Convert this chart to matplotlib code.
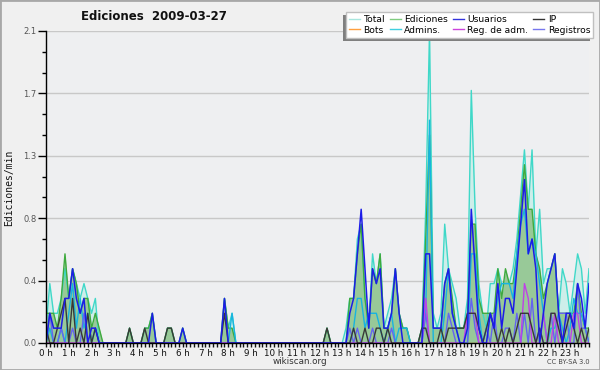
"""
Ediciones par tranche de 10 min, 2009-03-27 (graphique wikiscan).
"""
import matplotlib
matplotlib.use("Agg")
import matplotlib.pyplot as plt
import numpy as np
from matplotlib.lines import Line2D
from matplotlib.patches import Rectangle

TITLE = "Ediciones  2009-03-27"
Y_LABEL = "Ediciones/min"
HOUR_LABELS = ["0 h", "1 h", "2 h", "3 h", "4 h", "5 h", "6 h", "7 h", "8 h", "9 h",
               "10 h", "11 h", "12 h", "13 h", "14 h", "15 h", "16 h", "17 h", "18 h",
               "19 h", "20 h", "21 h", "22 h", "23 h"]
Y_TICKS = [0.0, 0.42, 0.84, 1.26, 1.68, 2.1]
Y_TICK_LABELS = ["0.0", "0.4", "0.8", "1.3", "1.7", "2.1"]

# une valeur par tranche de 10 min (144 points), en ediciones/min
TOTAL = [
    0.1, 0.4, 0.2, 0.2, 0.3, 0.5, 0.3, 0.5, 0.4, 0.3, 0.4, 0.3,
    0.2, 0.3, 0, 0, 0, 0, 0, 0, 0, 0, 0.1, 0,
    0, 0, 0.1, 0.1, 0.2, 0, 0, 0, 0.1, 0.1, 0, 0,
    0.1, 0, 0, 0, 0, 0, 0, 0, 0, 0, 0, 0.3,
    0.1, 0.2, 0, 0, 0, 0, 0, 0, 0, 0, 0, 0,
    0, 0, 0, 0, 0, 0, 0, 0, 0, 0, 0, 0,
    0, 0, 0.1, 0, 0, 0, 0, 0.1, 0.3, 0.3, 0.7, 0.8,
    0.3, 0.1, 0.6, 0.4, 0.6, 0.1, 0.2, 0.3, 0.5, 0.2, 0.1, 0.1,
    0, 0, 0, 0.1, 0.9, 2.1, 0.2, 0.1, 0.2, 0.8, 0.5, 0.4,
    0.3, 0.1, 0.1, 0.3, 1.7, 0.9, 0.4, 0.2, 0.1, 0.4, 0.4, 0.5,
    0.4, 0.4, 0.4, 0.5, 0.7, 1.0, 1.3, 0.9, 1.3, 0.6, 0.9, 0.4,
    0.5, 0.5, 0.6, 0.2, 0.5, 0.4, 0.2, 0.4, 0.6, 0.5, 0.2, 0.5,
]
EDICIONES = [
    0.2, 0.2, 0.2, 0.1, 0.3, 0.6, 0.3, 0.5, 0.4, 0.2, 0.3, 0.3,
    0.1, 0.2, 0.1, 0, 0, 0, 0, 0, 0, 0, 0.1, 0,
    0, 0, 0.1, 0.1, 0.2, 0, 0, 0, 0.1, 0.1, 0, 0,
    0.1, 0, 0, 0, 0, 0, 0, 0, 0, 0, 0, 0.3,
    0.1, 0.1, 0, 0, 0, 0, 0, 0, 0, 0, 0, 0,
    0, 0, 0, 0, 0, 0, 0, 0, 0, 0, 0, 0,
    0, 0, 0.1, 0, 0, 0, 0, 0, 0.3, 0.3, 0.6, 0.8,
    0.3, 0.1, 0.5, 0.4, 0.6, 0.1, 0.1, 0.2, 0.5, 0.2, 0.1, 0.1,
    0, 0, 0, 0.1, 0.7, 1.4, 0.1, 0.1, 0.1, 0.4, 0.5, 0.3,
    0.1, 0.1, 0.1, 0.2, 0.8, 0.8, 0.3, 0.2, 0.2, 0.2, 0.2, 0.5,
    0.3, 0.5, 0.4, 0.4, 0.6, 0.9, 1.2, 0.9, 0.9, 0.6, 0.5, 0.3,
    0.4, 0.5, 0.6, 0.2, 0.2, 0.2, 0.2, 0.2, 0.4, 0.2, 0.1, 0.1,
]
USUARIOS = [
    0, 0.2, 0.1, 0.1, 0.1, 0.3, 0.3, 0.5, 0.3, 0.2, 0.3, 0,
    0.1, 0.1, 0, 0, 0, 0, 0, 0, 0, 0, 0, 0,
    0, 0, 0, 0, 0.2, 0, 0, 0, 0, 0, 0, 0,
    0.1, 0, 0, 0, 0, 0, 0, 0, 0, 0, 0, 0.3,
    0, 0, 0, 0, 0, 0, 0, 0, 0, 0, 0, 0,
    0, 0, 0, 0, 0, 0, 0, 0, 0, 0, 0, 0,
    0, 0, 0, 0, 0, 0, 0, 0, 0.2, 0.3, 0.6, 0.9,
    0.5, 0.1, 0.5, 0.4, 0.5, 0.1, 0.1, 0.2, 0.5, 0.2, 0, 0,
    0, 0, 0, 0, 0.6, 0.6, 0.1, 0.1, 0.1, 0.4, 0.5, 0.2,
    0.1, 0, 0, 0.1, 0.9, 0.5, 0.1, 0, 0, 0.2, 0.1, 0.4,
    0.1, 0.3, 0.3, 0.2, 0.5, 0.8, 1.1, 0.6, 0.7, 0.5, 0, 0.2,
    0.4, 0.5, 0.6, 0.2, 0, 0.2, 0.2, 0.1, 0.4, 0.3, 0.1, 0.4,
]
IP = [
    0.1, 0, 0, 0.1, 0.2, 0.3, 0, 0.3, 0, 0.1, 0, 0.2,
    0, 0.1, 0, 0, 0, 0, 0, 0, 0, 0, 0.1, 0,
    0, 0, 0.1, 0, 0, 0, 0, 0, 0.1, 0.1, 0, 0,
    0, 0, 0, 0, 0, 0, 0, 0, 0, 0, 0, 0.2,
    0, 0, 0, 0, 0, 0, 0, 0, 0, 0, 0, 0,
    0, 0, 0, 0, 0, 0, 0, 0, 0, 0, 0, 0,
    0, 0, 0.1, 0, 0, 0, 0, 0, 0, 0.1, 0, 0,
    0.1, 0, 0, 0.1, 0.1, 0, 0.1, 0, 0, 0, 0, 0,
    0, 0, 0, 0.1, 0.1, 0, 0, 0, 0.1, 0, 0.1, 0.1,
    0.1, 0.1, 0.1, 0.2, 0.2, 0.2, 0.1, 0, 0.1, 0.2, 0.1, 0,
    0.1, 0, 0.1, 0, 0.1, 0.2, 0.2, 0.2, 0.1, 0, 0.1, 0,
    0, 0.2, 0.2, 0.1, 0, 0.1, 0.2, 0.1, 0, 0.1, 0, 0.1,
]
BOTS = [
    0, 0, 0, 0, 0, 0, 0, 0, 0, 0, 0, 0,
    0, 0, 0, 0, 0, 0, 0, 0, 0, 0, 0, 0,
    0, 0, 0, 0, 0, 0, 0, 0, 0, 0, 0, 0,
    0, 0, 0, 0, 0, 0, 0, 0, 0, 0, 0, 0,
    0, 0, 0, 0, 0, 0, 0, 0, 0, 0, 0, 0,
    0, 0, 0, 0, 0, 0, 0, 0, 0, 0, 0, 0,
    0, 0, 0, 0, 0, 0, 0, 0, 0, 0, 0, 0,
    0, 0, 0, 0, 0, 0, 0, 0, 0, 0, 0, 0,
    0, 0, 0, 0, 0, 0, 0, 0, 0, 0, 0, 0,
    0, 0, 0, 0, 0, 0, 0, 0, 0, 0, 0, 0,
    0, 0, 0, 0, 0, 0, 0, 0, 0, 0, 0, 0,
    0, 0, 0, 0, 0, 0, 0, 0, 0, 0, 0, 0,
]
ADMINS = [
    0, 0.1, 0, 0, 0.1, 0, 0.2, 0.4, 0.1, 0.3, 0.1, 0.2,
    0, 0.1, 0, 0, 0, 0, 0, 0, 0, 0, 0, 0,
    0, 0, 0, 0, 0, 0, 0, 0, 0, 0, 0, 0,
    0, 0, 0, 0, 0, 0, 0, 0, 0, 0, 0, 0,
    0, 0.2, 0, 0, 0, 0, 0, 0, 0, 0, 0, 0,
    0, 0, 0, 0, 0, 0, 0, 0, 0, 0, 0, 0,
    0, 0, 0, 0, 0, 0, 0, 0, 0, 0.1, 0.3, 0.3,
    0.1, 0.2, 0.2, 0.2, 0.1, 0, 0.1, 0.2, 0, 0.1, 0.1, 0.1,
    0, 0, 0, 0, 0.2, 1.5, 0, 0, 0, 0.2, 0.5, 0.2,
    0.1, 0, 0, 0, 0.6, 0.6, 0.2, 0, 0.1, 0.2, 0.1, 0.3,
    0.4, 0.4, 0.4, 0.3, 0.6, 0.8, 0.9, 0.6, 0.7, 0.6, 0.4, 0.2,
    0, 0.1, 0.1, 0.2, 0.1, 0, 0.1, 0.3, 0.2, 0.2, 0.1, 0,
]
REG_ADM = [
    0, 0, 0, 0, 0, 0, 0, 0, 0, 0, 0, 0,
    0, 0, 0, 0, 0, 0, 0, 0, 0, 0, 0, 0,
    0, 0, 0, 0, 0, 0, 0, 0, 0, 0, 0, 0,
    0, 0, 0, 0, 0, 0, 0, 0, 0, 0, 0, 0,
    0, 0, 0, 0, 0, 0, 0, 0, 0, 0, 0, 0,
    0, 0, 0, 0, 0, 0, 0, 0, 0, 0, 0, 0,
    0, 0, 0, 0, 0, 0, 0, 0, 0, 0, 0, 0,
    0, 0, 0, 0, 0, 0, 0, 0, 0, 0, 0, 0,
    0, 0, 0, 0, 0.3, 0, 0, 0, 0, 0, 0, 0,
    0, 0, 0, 0.2, 0.2, 0.2, 0, 0, 0, 0, 0, 0,
    0, 0, 0, 0, 0, 0, 0.4, 0.3, 0, 0, 0, 0.2,
    0, 0, 0.2, 0, 0, 0, 0, 0.2, 0.2, 0, 0, 0,
]
REGISTROS = [
    0, 0.2, 0, 0, 0.1, 0, 0, 0.1, 0, 0, 0.2, 0,
    0, 0, 0, 0, 0, 0, 0, 0, 0, 0, 0, 0,
    0, 0, 0, 0, 0, 0, 0, 0, 0, 0, 0, 0,
    0, 0, 0, 0, 0, 0, 0, 0, 0, 0, 0, 0,
    0, 0, 0, 0, 0, 0, 0, 0, 0, 0, 0, 0,
    0, 0, 0, 0, 0, 0, 0, 0, 0, 0, 0, 0,
    0, 0, 0, 0, 0, 0, 0, 0, 0.1, 0, 0.1, 0,
    0, 0, 0.1, 0, 0, 0, 0, 0.1, 0, 0, 0, 0,
    0, 0, 0, 0, 0.2, 0, 0, 0, 0, 0, 0.2, 0.1,
    0, 0, 0, 0, 0.3, 0.1, 0, 0, 0.1, 0, 0.2, 0,
    0, 0.1, 0.1, 0, 0.2, 0, 0.2, 0, 0.3, 0, 0.1, 0,
    0, 0.2, 0, 0.2, 0.2, 0.2, 0, 0, 0.4, 0.1, 0.1, 0,
]

BG = "#eeeff1"
W, H = 600, 370


def fig_box(left, top, right, bottom):
    """Boite en pixels (origine en haut a gauche) -> (x0, y0, w, h) en coordonnees figure."""
    return left / W, 1 - bottom / H, (right - left) / W, (bottom - top) / H


def main() -> None:
    fig = plt.figure(figsize=(W / 100, H / 100), dpi=100, facecolor="#f0f0f0")
    ax = fig.add_axes([46 / W, 27 / H, 543 / W, 312 / H])
    ax.set_facecolor(BG)

    x = np.arange(len(TOTAL))

    # aires remplies : total puis ediciones
    ax.fill_between(x, TOTAL, color="#cdeeea", lw=0, zorder=1)
    ax.fill_between(x, EDICIONES, color="#98c998", lw=0, zorder=2)

    ax.plot(x, TOTAL, color="#3fd8c8", lw=1, zorder=3)
    ax.plot(x, EDICIONES, color="#3eaa3e", lw=1, zorder=3)
    ax.plot(x, BOTS, color="#ffa040", lw=1, zorder=3)
    ax.plot(x, ADMINS, color="#18b4e0", lw=1, zorder=4)
    ax.plot(x, REGISTROS, color="#6464f0", lw=1, zorder=4)
    ax.plot(x, REG_ADM, color="#c040e8", lw=1, zorder=4)
    ax.plot(x, IP, color="#383838", lw=1, zorder=5)
    ax.plot(x, USUARIOS, color="#1c1ce8", lw=1.1, zorder=6)

    ax.set_xlim(0, len(TOTAL) - 1)
    ax.set_ylim(0, 2.1)

    ax.set_xticks(x[::6])
    ax.set_xticklabels(HOUR_LABELS)
    ax.set_xticks(x, minor=True)
    ax.set_yticks(Y_TICKS)
    ax.set_yticklabels(Y_TICK_LABELS)
    ax.set_yticks(np.arange(0, 2.11, 0.14), minor=True)

    ax.tick_params(axis="x", which="both", direction="out", length=3, width=1,
                   labelsize=6.3, pad=1, colors="#111111")
    ax.tick_params(axis="y", which="major", direction="out", length=6, width=1,
                   labelsize=6, pad=1, labelcolor="#555555")
    ax.tick_params(axis="y", which="minor", direction="out", length=3, width=1)

    ax.yaxis.grid(True, color="#c8c8c8", lw=1)
    ax.set_axisbelow(True)
    for side in ("top", "right"):
        ax.spines[side].set_visible(False)
    for side in ("left", "bottom"):
        ax.spines[side].set_linewidth(1)
        ax.spines[side].set_zorder(7)

    # cadre de legende dessine a la main : ombre en bas a gauche
    sx, sy, sw, sh = fig_box(343, 15, 590, 41)
    ax.add_patch(Rectangle((sx, sy), sw, sh, transform=fig.transFigure,
                           facecolor="#7f7f7f", edgecolor="none", zorder=9,
                           clip_on=False))
    bx, by, bw, bh = fig_box(346, 12, 593, 38)
    ax.add_patch(Rectangle((bx, by), bw, bh, transform=fig.transFigure,
                           facecolor="white", edgecolor="#c0c0c0", lw=1,
                           zorder=9.5, clip_on=False))

    handles = [
        Line2D([], [], color="#a8e6de", lw=1),
        Line2D([], [], color="#ffa040", lw=1),
        Line2D([], [], color="#80cc80", lw=1),
        Line2D([], [], color="#40d0e0", lw=1),
        Line2D([], [], color="#3333dd", lw=1),
        Line2D([], [], color="#cc44dd", lw=1),
        Line2D([], [], color="#333333", lw=1),
        Line2D([], [], color="#7777ee", lw=1),
    ]
    labels = ["Total", "Bots", "Ediciones", "Admins.", "Usuarios", "Reg. de adm.",
              "IP", "Registros"]
    leg = ax.legend(handles, labels, ncol=4, loc="center",
                    bbox_to_anchor=(bx + bw / 2, by + bh / 2),
                    bbox_transform=fig.transFigure, fontsize=6.6, frameon=False,
                    borderpad=0, handlelength=1.2, handletextpad=0.4,
                    columnspacing=0.5, labelspacing=0.15, borderaxespad=0)
    leg.set_zorder(10)

    fig.text(154 / W, 1 - 16 / H, TITLE, ha="center", va="center",
             fontsize=8.5, fontweight="bold", color="#111111")
    fig.text(9 / W, 1 - 188 / H, Y_LABEL, rotation=90, ha="center",
             va="center", fontsize=7, family="DejaVu Sans Mono", color="#111111")
    fig.text(300 / W, 1 - 361 / H, "wikiscan.org", ha="center", va="center",
             fontsize=6.3, color="#333333")
    fig.text(590 / W, 1 - 362 / H, "CC BY-SA 3.0", ha="right", va="center",
             fontsize=4.8, color="#444444")

    fig.patches.append(Rectangle((0, 0), 1, 1, transform=fig.transFigure,
                                 fill=False, edgecolor="#a8a8a8", lw=2))

    fig.savefig("out.png", dpi=100, facecolor=fig.get_facecolor())


if __name__ == "__main__":
    main()
